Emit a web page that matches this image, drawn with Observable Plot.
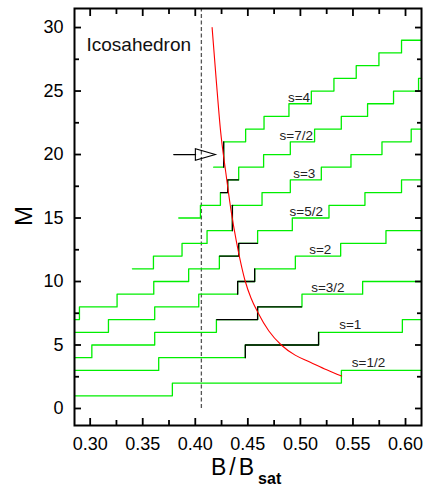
<!DOCTYPE html>
<html><head><meta charset="utf-8">
<script src="https://cdn.jsdelivr.net/npm/d3@7"></script>
<script src="https://cdn.jsdelivr.net/npm/@observablehq/plot@0.6"></script>
<style>html,body{margin:0;padding:0;background:#fff} #chart svg{display:block}</style>
</head><body><div id="chart"></div>
<script>
// ---- axes ----
const xDomain = [0.2851, 0.6152];
const yDomain = [-1.34, 31.5];
const xMajorTicks = [0.30, 0.35, 0.40, 0.45, 0.50, 0.55, 0.60];
const xMinorTicks = [0.325, 0.375, 0.425, 0.475, 0.525, 0.575];
const yMajorTicks = [0, 5, 10, 15, 20, 25, 30];
const yMinorTicks = [2.5, 7.5, 12.5, 17.5, 22.5, 27.5];

// ---- staircases (one per spin s) ----
const spinLabels = ["s=1/2", "s=1", "s=3/2", "s=2", "s=5/2", "s=3", "s=7/2", "s=4"];
const stairStart = [0.2851, 0.2851, 0.2851, 0.2851, 0.2851, 0.3402, 0.3843, 0.4175];
const stairLevels = [
  [1, 2, 3],
  [3, 4, 5, 6, 7],
  [4, 5, 6, 7, 8, 9, 10],
  [6, 7, 8, 9, 10, 11, 12, 13, 14],
  [7, 8, 9, 10, 11, 12, 13, 14, 15, 16, 17, 18],
  [11, 12, 13, 14, 16, 17, 18, 19, 20, 21, 22],
  [15, 16, 17, 18, 19, 20, 21, 22, 23, 24, 25, 26],
  [19, 21, 22, 23, 24, 25, 26, 27, 28, 29]
];
const stairSteps = [
  [0.3782, 0.5390],
  [0.3652, 0.4476, 0.5173, 0.5970],
  [0.3016, 0.3614, 0.4201, 0.4593, 0.5015, 0.5592],
  [0.3174, 0.3614, 0.4033, 0.4403, 0.4565, 0.4952, 0.5383, 0.5814],
  [0.2898, 0.3256, 0.3605, 0.3937, 0.4229, 0.4413, 0.4593, 0.4923, 0.5272, 0.5614, 0.5962],
  [0.3602, 0.3874, 0.4112, 0.4353, 0.4635, 0.4904, 0.5199, 0.5481, 0.5776, 0.6054],
  [0.4049, 0.4239, 0.4308, 0.4413, 0.4650, 0.4904, 0.5135, 0.5389, 0.5639, 0.5886, 0.6124],
  [0.4270, 0.4479, 0.4654, 0.4891, 0.5104, 0.5319, 0.5531, 0.5747, 0.5962]
];
// highlighted (black) part of each staircase, as [from, to] in B/Bsat
const blackRanges = [
  null,
  [0.4476, 0.5173],
  [0.4205, 0.5010],
  [0.4403, 0.4565],
  [0.4232, 0.4590],
  [0.4353, 0.4353],
  [0.4242, 0.4410],
  [0.4270, 0.4270]
];
const labelX = [0.5648, 0.5474, 0.5261, 0.5189, 0.5056, 0.5037, 0.4961, 0.4987];
const labelM = [3.62, 6.61, 9.55, 12.52, 15.49, 18.48, 21.5, 24.45];

// ---- red curve ----
const redX = [0.4160, 0.4200, 0.4240, 0.4290, 0.4340, 0.4390, 0.4440, 0.4476, 0.4530, 0.4593, 0.4700, 0.4818, 0.4950, 0.5094, 0.5250, 0.5392];
const redM = [30, 25.8, 21.9, 18.6, 15.6, 13.2, 11.2, 10.0, 8.7, 7.6, 6.1, 5.0, 4.2, 3.65, 3.05, 2.55];

// ---- classical jump (dashed) and arrow ----
const classicalJumpX = 0.4058;
const arrowM = 20;
const arrowFromX = 0.3795;
const arrowBaseX = 0.4003;
const arrowTipX = 0.4191;
const titleText = "Icosahedron";
const titleX = 0.2965, titleM = 28.6;

// ---- build geometry from the arrays ----
function stairPoints(i, a, b) {
  const steps = stairSteps[i], levels = stairLevels[i], eps = 1e-6;
  let k = steps.findIndex(s => s >= a - eps);
  if (k < 0) k = steps.length;
  const pts = [{x: a, y: levels[k], s: i}];
  for (let j = k; j < steps.length && steps[j] <= b + eps; j++) {
    pts.push({x: steps[j], y: levels[j], s: i});
    pts.push({x: steps[j], y: levels[j + 1], s: i});
  }
  const last = pts[pts.length - 1];
  if (b > last.x + eps) pts.push({x: b, y: last.y, s: i});
  return pts;
}
const greenPts = spinLabels.flatMap((_, i) => stairPoints(i, stairStart[i], xDomain[1]));
const blackPts = spinLabels.flatMap((_, i) => blackRanges[i] ? stairPoints(i, blackRanges[i][0], blackRanges[i][1]) : []);
const redPts = redX.map((x, i) => ({x, y: redM[i]}));
const labels = spinLabels.map((t, i) => ({x: labelX[i], y: labelM[i], t}));

const openTriangle = {
  draw(ctx) { ctx.moveTo(0, 0); ctx.lineTo(-20, -5.8); ctx.lineTo(-20, 5.8); ctx.closePath(); }
};

const tickStyle = {strokeWidth: 1.8, fill: "none", label: null};
const plot = Plot.plot({
  width: 424, height: 489,
  marginTop: 8, marginRight: 3, marginBottom: 64, marginLeft: 74,
  style: {fontFamily: "'Liberation Sans', Arial, sans-serif", background: "white", color: "black"},
  x: {domain: xDomain},
  y: {domain: yDomain},
  marks: [
    Plot.ruleX([classicalJumpX], {y1: 0, y2: yDomain[1], stroke: "#555", strokeWidth: 1.3, strokeDasharray: "4,2.5"}),
    Plot.line(greenPts, {x: "x", y: "y", z: "s", stroke: "#00ee00", strokeWidth: 1.3}),
    Plot.line(blackPts, {x: "x", y: "y", z: "s", stroke: "black", strokeWidth: 1.3}),
    Plot.line(redPts, {x: "x", y: "y", stroke: "#ff0000", strokeWidth: 1.1, curve: "monotone-x"}),
    Plot.line([{x: arrowFromX, y: arrowM}, {x: arrowBaseX, y: arrowM}], {x: "x", y: "y", stroke: "black", strokeWidth: 1.2}),
    Plot.dot([{x: arrowTipX, y: arrowM}], {x: "x", y: "y", symbol: openTriangle, stroke: "black", fill: "none", strokeWidth: 1.1}),
    Plot.text(labels, {x: "x", y: "y", text: "t", fontSize: 13.5, fill: "#222", textAnchor: "middle"}),
    Plot.text([titleText], {x: titleX, y: titleM, text: d => d, fontSize: 19, textAnchor: "start", fill: "#111"}),
    Plot.frame({stroke: "black", strokeWidth: 2}),
    Plot.axisX(xMajorTicks, {anchor: "bottom", tickSize: -7, ...tickStyle}),
    Plot.axisX(xMinorTicks, {anchor: "bottom", tickSize: -5, ...tickStyle}),
    Plot.axisX(xMajorTicks, {anchor: "top", tickSize: -7, ...tickStyle}),
    Plot.axisX(xMinorTicks, {anchor: "top", tickSize: -5, ...tickStyle}),
    Plot.axisY(yMajorTicks, {anchor: "left", tickSize: -7, ...tickStyle}),
    Plot.axisY(yMinorTicks, {anchor: "left", tickSize: -5, ...tickStyle}),
    Plot.axisY(yMajorTicks, {anchor: "right", tickSize: -7, ...tickStyle}),
    Plot.axisY(yMinorTicks, {anchor: "right", tickSize: -5, ...tickStyle}),
    Plot.axisX(xMajorTicks, {anchor: "bottom", tickSize: 0, tickPadding: 12, tickFormat: d => d.toFixed(2), fontSize: 18, label: null}),
    Plot.axisY(yMajorTicks, {anchor: "left", tickSize: 0, tickPadding: 11, tickFormat: d => String(d), fontSize: 18, label: null})
  ]
});
document.getElementById("chart").appendChild(plot);

// axis titles
const svg = d3.select(plot);
svg.append("text")
  .attr("transform", "translate(32,216) rotate(-90)")
  .attr("text-anchor", "middle")
  .attr("font-family", "'Liberation Sans', Arial, sans-serif")
  .attr("font-size", 24).attr("fill", "black")
  .text("M");
const xl = svg.append("text")
  .attr("x", 211).attr("y", 475)
  .attr("text-anchor", "start")
  .attr("font-family", "'Liberation Sans', Arial, sans-serif")
  .attr("fill", "black");
xl.append("tspan").attr("font-size", 23).attr("letter-spacing", 3).text("B/B");
xl.append("tspan").attr("font-size", 16).attr("font-weight", "bold").attr("dy", 9).attr("dx", 1).text("sat");
</script>
</body></html>
